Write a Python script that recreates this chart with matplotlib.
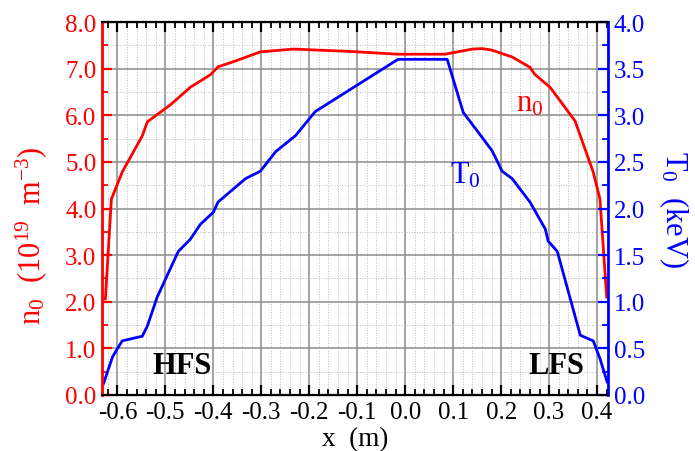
import numpy as np
import matplotlib
matplotlib.use('Agg')
import matplotlib.pyplot as plt
from matplotlib.ticker import MultipleLocator

plt.rcParams['font.family'] = ['Liberation Serif', 'DejaVu Serif']
plt.rcParams['mathtext.fontset'] = 'custom'
plt.rcParams['mathtext.rm'] = 'Liberation Serif'
plt.rcParams['mathtext.it'] = 'Liberation Serif:italic'
plt.rcParams['mathtext.bf'] = 'Liberation Serif:bold'
plt.rcParams['axes.unicode_minus'] = False

# density profile n0 (10^19 m^-3)
x_n = [-0.625, -0.6125, -0.59, -0.548, -0.5375, -0.49, -0.448, -0.406, -0.39,
       -0.358, -0.302, -0.233, -0.115, -0.015, 0.083, 0.14, 0.16, 0.18, 0.223,
       0.26, 0.27, 0.302, 0.354, 0.392, 0.406, 0.42]
n0 = [2.06, 4.2, 4.78, 5.56, 5.86, 6.22, 6.6, 6.87, 7.04,
      7.15, 7.36, 7.42, 7.37, 7.31, 7.31, 7.42, 7.43, 7.40, 7.25,
      7.03, 6.88, 6.6, 5.88, 4.78, 4.2, 2.1]

# temperature profile T0 (keV)
x_t = [-0.629, -0.61, -0.59, -0.548, -0.5375, -0.517, -0.473, -0.448, -0.427,
       -0.4, -0.39, -0.333, -0.302, -0.27, -0.229, -0.1875, -0.015, 0.0875,
       0.121, 0.152, 0.181, 0.202, 0.223, 0.26, 0.292, 0.298, 0.317, 0.365,
       0.392, 0.406, 0.421]
T0 = [0.12, 0.41, 0.58, 0.63, 0.74, 1.05, 1.54, 1.67, 1.83,
      1.96, 2.07, 2.32, 2.40, 2.61, 2.78, 3.04, 3.6, 3.6,
      3.03, 2.82, 2.62, 2.40, 2.32, 2.07, 1.78, 1.65, 1.54, 0.64,
      0.58, 0.39, 0.14]

fs = 18
lfs = 21
fig = plt.figure(figsize=(6.95, 4.52), dpi=100)
ax = fig.add_axes([0.1468, 0.124, 0.7282, 0.825])
ax2 = ax.twinx()

ax.plot(x_n, n0, color='red', lw=2)
ax2.plot(x_t, T0, color='blue', lw=2)

ax.set_xlim(-0.632, 0.423)
ax.set_ylim(0, 8)
ax2.set_ylim(0, 4)

ax.xaxis.set_major_locator(MultipleLocator(0.1))
ax.xaxis.set_minor_locator(MultipleLocator(0.02))
ax.yaxis.set_major_locator(MultipleLocator(1.0))
ax.yaxis.set_minor_locator(MultipleLocator(0.5))
ax2.yaxis.set_major_locator(MultipleLocator(0.5))
ax2.yaxis.set_minor_locator(MultipleLocator(0.25))

ax.xaxis.set_major_formatter(plt.FuncFormatter(lambda v, p: '%.1f' % (0.0 if abs(v) < 1e-9 else v)))
ax.yaxis.set_major_formatter(plt.FuncFormatter(lambda v, p: '%.1f' % v))
ax2.yaxis.set_major_formatter(plt.FuncFormatter(lambda v, p: '%.1f' % v))

ax.grid(which='major', color='#8c8c8c', lw=1.1)
ax.grid(which='minor', color='#bbbbbb', lw=0.7, ls=':')
ax.set_axisbelow(True)

ax.tick_params(axis='x', which='both', direction='in', top=True, labelsize=fs, color='black')
ax.tick_params(axis='x', which='major', length=7, width=1.6, pad=4)
ax.tick_params(axis='x', which='minor', length=4, width=1.3)
ax.tick_params(axis='y', which='both', direction='in', colors='red', labelsize=fs)
ax.tick_params(axis='y', which='major', length=7, width=1.6, pad=4)
ax.tick_params(axis='y', which='minor', length=4, width=1.3)
ax2.tick_params(axis='y', which='both', direction='in', colors='blue', labelsize=fs)
ax2.tick_params(axis='y', which='major', length=7, width=1.6, pad=4)
ax2.tick_params(axis='y', which='minor', length=4, width=1.3)

for s in ['top', 'bottom']:
    ax2.spines[s].set_linewidth(1.6)
ax2.spines['left'].set_color('red')
ax2.spines['left'].set_linewidth(2)
ax2.spines['right'].set_color('blue')
ax2.spines['right'].set_linewidth(2)

ax.set_xlabel('x  (m)', fontsize=19.5, va='center')
ax.xaxis.set_label_coords(0.5, -0.117)
ax.set_ylabel(r'n$_0$  (10$^{19}$  m$^{-3}$)', fontsize=lfs + 1, color='red', va='center')
ax.yaxis.set_label_coords(-0.14, 0.43)
ax2.set_ylabel(r'T$_0$  (keV)', fontsize=lfs + 1, color='blue', rotation=270, va='center')
ax2.yaxis.set_label_coords(1.13, 0.5)

ax.text(0.23, 6.1, r'n$_0$', color='red', fontsize=lfs + 1)
ax.text(0.094, 4.55, r'T$_0$', color='blue', fontsize=lfs + 1)
ax.text(-0.527, 0.47, 'HFS', fontsize=22, fontweight='bold')
ax.text(0.256, 0.47, 'LFS', fontsize=22, fontweight='bold')

fig.savefig('out.png', dpi=100)
